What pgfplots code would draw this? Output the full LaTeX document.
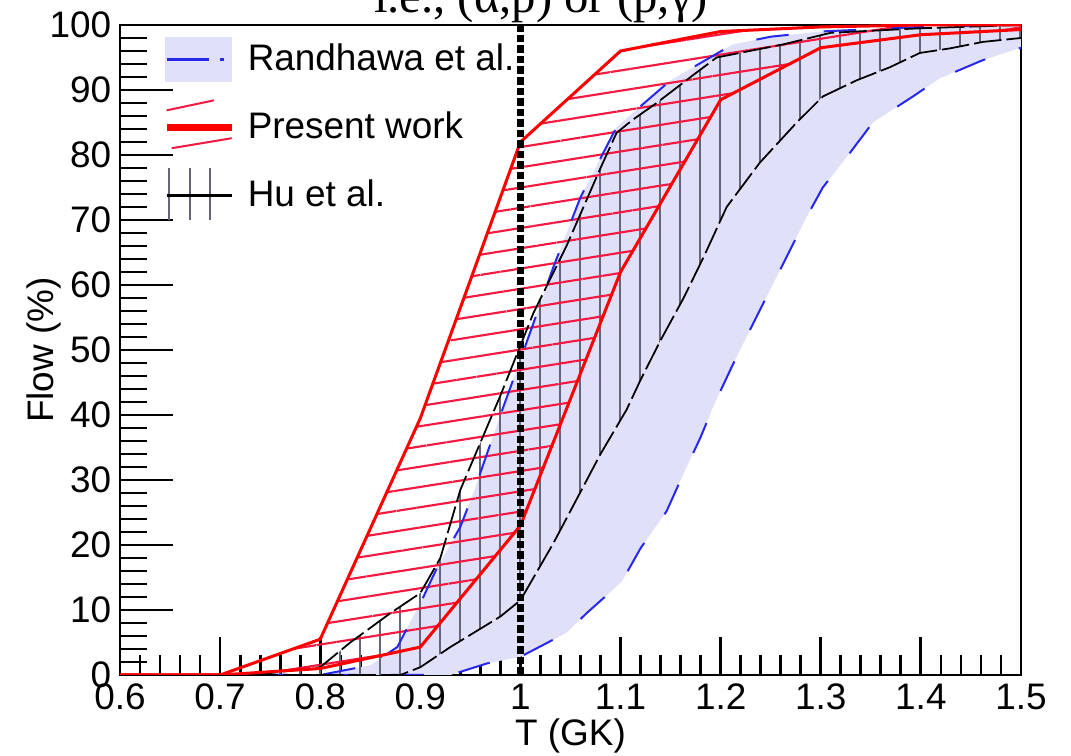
\documentclass[border=0pt]{standalone}
\usepackage{fontspec}
\setmainfont{Liberation Sans}
\newfontfamily\timesfont{Liberation Serif}
\usepackage{pgfplots}
\pgfplotsset{compat=1.18}
\usepgfplotslibrary{fillbetween}
\usetikzlibrary{patterns.meta}

\definecolor{lav}{RGB}{224,224,249}
\definecolor{hatchred}{RGB}{245,25,65}
\definecolor{hugray}{RGB}{100,100,122}
\definecolor{rblue}{RGB}{40,40,235}

\newcommand{\labfont}{\fontsize{14.7}{17}\selectfont}

\begin{document}
\begin{tikzpicture}
\begin{axis}[
  scale only axis, width=12.614cm, height=9.1cm,
  xmin=0.6, xmax=1.5, ymin=0, ymax=100,
  xtick={0.6,0.7,0.8,0.9,1,1.1,1.2,1.3,1.4,1.5},
  ytick={0,10,...,100},
  minor x tick num=4, minor y tick num=4,
  tick align=inside, xtick pos=left, ytick pos=left,
  axis line style={line width=1.1pt},
  tick style={line width=1.1pt, black},
  major x tick style={/pgfplots/major tick length=0.53cm},
  minor x tick style={/pgfplots/minor tick length=0.28cm},
  major y tick style={/pgfplots/major tick length=0.74cm},
  minor y tick style={/pgfplots/minor tick length=0.38cm},
  tick label style={font=\labfont},
  /pgf/number format/assume math mode=true,
  xlabel={T (GK)}, ylabel={Flow (\%)},
  label style={font=\labfont},
  xlabel style={at={(axis description cs:0.5,-0.054)}, anchor=north},
  ylabel style={at={(axis description cs:-0.0555,0.5)}, anchor=south},
  legend style={at={(axis description cs:0.0476,1)}, anchor=north west,
    draw=none, fill=none, inner sep=0pt, row sep=0pt, column sep=0.18cm,
    nodes={inner sep=0pt, font=\labfont}},
  legend cell align=left,
]
% legend images
\addlegendimage{legend image code/.code={
  \path[draw=none, fill=none] (0cm,-0.476cm) rectangle (0.94cm,0.476cm);
  \path[draw=none, fill=lav] (0cm,-0.31cm) rectangle (0.94cm,0.31cm);
  \draw[rblue, line width=0.9pt] (0.03cm,0cm) -- (0.62cm,0cm);
  \draw[rblue, line width=0.9pt] (0.78cm,0cm) -- (0.83cm,0cm);
}}
\addlegendentry{Randhawa et al.}
\addlegendimage{legend image code/.code={
  \path[draw=none, fill=none] (0cm,-0.476cm) rectangle (0.94cm,0.476cm);
  \draw[hatchred, line width=0.8pt] (0.03cm,0.24cm) -- (0.69cm,0.38cm);
  \draw[hatchred, line width=0.8pt] (0.10cm,-0.29cm) -- (0.94cm,-0.15cm);
  \draw[red, line width=2.6pt] (0.03cm,0cm) -- (0.94cm,0cm);
}}
\addlegendentry{Present work}
\addlegendimage{legend image code/.code={
  \path[draw=none, fill=none] (0cm,-0.476cm) rectangle (0.94cm,0.476cm);
  \draw[hugray, line width=0.8pt] (0.06cm,-0.35cm) -- (0.06cm,0.38cm);
  \draw[hugray, line width=0.8pt] (0.35cm,-0.35cm) -- (0.35cm,0.38cm);
  \draw[hugray, line width=0.8pt] (0.63cm,-0.35cm) -- (0.63cm,0.38cm);
  \draw[black, line width=1pt] (0.03cm,0cm) -- (0.94cm,0cm);
}}
\addlegendentry{Hu et al.}

% Randhawa et al. band
\addplot[name path=rU, rblue, line width=0.8pt, dash pattern=on 13pt off 14pt, forget plot] coordinates {
(0.6,0)(0.8,0)(0.85,1.5)(0.877,4.3)(0.903,12)(0.917,16.6)(0.94,22.8)(0.953,28)(0.98,40)(1.0,48.5)
(1.033,62.8)(1.06,73.5)(1.096,84.3)(1.12,87.5)(1.15,91.5)(1.212,97)(1.25,98.2)(1.3,99)(1.4,99.7)(1.5,100)};
\addplot[name path=rL, rblue, line width=0.8pt, dash pattern=on 13pt off 14pt, forget plot] coordinates {
(0.6,0)(0.93,0)(0.967,1.8)(1.0,2.8)(1.046,6.5)(1.066,9.5)(1.101,14.3)(1.12,19.5)(1.146,25.2)(1.16,30)
(1.18,36.6)(1.194,41.8)(1.212,47.7)(1.229,53)(1.286,70.5)(1.302,75)(1.329,80.3)(1.352,85)(1.392,89)
(1.419,91.8)(1.462,94.6)(1.5,96.5)};
\addplot[lav, forget plot] fill between[of=rU and rL];

% Hu et al. band
\addplot[name path=hU, black, line width=0.7pt, dash pattern=on 11pt off 2pt, forget plot] coordinates {
(0.6,0)(0.7,0)(0.75,0.3)(0.8,1.2)(0.83,5)(0.87,9.5)(0.9,12.6)(0.92,18)(0.94,28.5)(0.98,43)(1.013,55.7)
(1.046,66)(1.08,78)(1.096,83.4)(1.112,85.4)(1.136,88)(1.17,92)(1.196,95)(1.262,97)(1.31,98.8)(1.4,99.5)(1.5,100)};
\addplot[name path=hL, black, line width=0.7pt, dash pattern=on 11pt off 2pt, forget plot] coordinates {
(0.6,0)(0.88,0)(0.9,1.2)(0.93,4.3)(0.963,7.4)(0.98,9)(1.0,11.5)(1.033,20.3)(1.056,27)(1.08,34)(1.106,40.8)
(1.12,45.4)(1.14,51.5)(1.163,58)(1.183,64.3)(1.206,72)(1.239,78.8)(1.276,85)(1.302,89)(1.336,91.5)
(1.369,93.5)(1.399,95.7)(1.429,96.4)(1.462,97.4)(1.5,98)};
\addplot[pattern={Lines[angle=90, distance=0.28cm, line width=0.7pt]}, pattern color=hugray, draw=none, forget plot]
  fill between[of=hU and hL];

% Present work band
\addplot[name path=pU, red, line width=1.2pt, forget plot] coordinates {
(0.6,0)(0.7,0)(0.8,5.5)(0.9,39.5)(1.0,82)(1.1,96)(1.2,99)(1.3,99.7)(1.4,100)(1.5,100)};
\addplot[name path=pL, red, line width=1.2pt, forget plot] coordinates {
(0.6,0)(0.7,0)(0.8,1)(0.9,4.3)(1.0,23)(1.1,62)(1.2,88.5)(1.3,96.5)(1.4,98.5)(1.5,99.3)};
\addplot[pattern={Lines[angle=9, distance=0.28cm, line width=0.85pt]}, pattern color=hatchred, draw=none, forget plot]
  fill between[of=pU and pL];

% T = 1 GK marker
\addplot[black, line width=3pt, dash pattern=on 3pt off 1.2pt, forget plot] coordinates {(1,0)(1,100)};
\end{axis}
\node[font=\timesfont\fontsize{19.4}{22}\selectfont, anchor=base] at (5.894,9.268) {i.e., (α,p) or (p,γ)};
\pgfresetboundingbox
\useasboundingbox (-1.68,-1.134) rectangle (13.314,9.45);
\end{tikzpicture}
\end{document}
